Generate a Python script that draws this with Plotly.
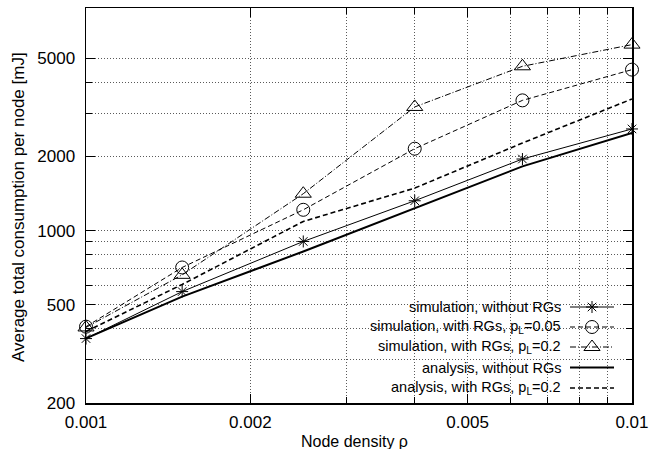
import plotly.graph_objects as go

# ---- data ----
density = [0.001, 0.0015, 0.0025, 0.004, 0.0063, 0.01]
sim_no_rg = [365, 566, 904, 1322, 1952, 2585]
sim_rg_005 = [408, 709, 1215, 2150, 3376, 4498]
sim_rg_02 = [405, 662, 1412, 3175, 4641, 5682]
ana_no_rg = [366, 540, 823, 1234, 1822, 2490]
ana_rg_02 = [390, 605, 1090, 1488, 2267, 3420]

x_major = [0.001, 0.002, 0.005, 0.01]
x_major_text = ["0.001", "0.002", "0.005", "0.01"]
x_minor = [0.003, 0.004, 0.006, 0.007, 0.008, 0.009]
y_major = [200, 500, 1000, 2000, 5000]
y_major_text = ["200", "500", "1000", "2000", "5000"]
y_minor = [300, 400, 600, 700, 800, 900, 3000, 4000]

x_title = "Node density ρ"
y_title = "Average total consumption per node [mJ]"
legend_labels = [
    "simulation, without RGs",
    "simulation, with RGs, p<sub>L</sub>=0.05",
    "simulation, with RGs, p<sub>L</sub>=0.2",
    "analysis, without RGs",
    "analysis, with RGs, p<sub>L</sub>=0.2",
]

FONT = "Liberation Sans, Arial, Helvetica, sans-serif"
GRID = "#5a5a5a"
GDASH = "1px,2px"

styles = [
    dict(line=dict(color="black", width=1, dash="solid"),
         marker=dict(symbol="asterisk-open", size=10, color="black", line=dict(color="black", width=1)),
         mode="lines+markers"),
    dict(line=dict(color="black", width=1, dash="5px,3px"),
         marker=dict(symbol="circle-open", size=13, color="black", line=dict(color="black", width=1)),
         mode="lines+markers"),
    dict(line=dict(color="black", width=1, dash="6px,2px,1px,2px"),
         marker=dict(symbol="triangle-up-open", size=14, color="black", line=dict(color="black", width=1)),
         mode="lines+markers"),
    dict(line=dict(color="black", width=2, dash="solid"), marker=None, mode="lines"),
    dict(line=dict(color="black", width=1.6, dash="5px,3px"), marker=None, mode="lines"),
]
series = [sim_no_rg, sim_rg_005, sim_rg_02, ana_no_rg, ana_rg_02]

fig = go.Figure()
for ys, st, name in zip(series, styles, legend_labels):
    kw = dict(x=density, y=ys, mode=st["mode"], line=st["line"], name=name,
              showlegend=False, cliponaxis=False)
    if st["marker"] is not None:
        kw["marker"] = st["marker"]
    fig.add_trace(go.Scatter(**kw))

# page body margin is removed by the post script, so the figure fills the window
FW, FH = 649, 449
# plot area in window pixels
L, R, T, B = 86, 632, 8, 403
W, H = R - L, B - T
def px(xp):
    return (xp - L) / W
def py(yp):
    return (B - yp) / H

row_y = [307, 327, 347, 367.5, 388]
shapes = [dict(type="rect", xref="paper", yref="paper", x0=px(337), x1=px(627),
               y0=py(290), y1=0.002, fillcolor="white", line=dict(width=0), layer="between")]
annotations = []
for i, (lab, st) in enumerate(zip(legend_labels, styles)):
    yy = py(row_y[i])
    annotations.append(dict(xref="paper", yref="paper", x=px(563), y=yy, text=lab,
                            showarrow=False, xanchor="right", yanchor="middle",
                            font=dict(family=FONT, size=14.5, color="black")))
    shapes.append(dict(type="line", xref="paper", yref="paper", x0=px(570), x1=px(614),
                       y0=yy, y1=yy, line=st["line"], layer="above"))
for i in range(3):
    fig.add_trace(go.Scatter(x=[px(592)], y=[py(row_y[i])], mode="markers",
                             marker=styles[i]["marker"], xaxis="x2", yaxis="y2",
                             showlegend=False, hoverinfo="skip", cliponaxis=False))

# axis titles as annotations for exact placement
annotations.append(dict(xref="paper", yref="paper", x=px(354), y=py(441), text=x_title,
                        showarrow=False, xanchor="center", yanchor="middle",
                        font=dict(family=FONT, size=16, color="black")))
annotations.append(dict(xref="paper", yref="paper", x=px(18), y=py(207), text=y_title,
                        showarrow=False, xanchor="center", yanchor="middle", textangle=-90,
                        font=dict(family=FONT, size=17, color="black")))

axis_common = dict(
    ticks="inside", ticklen=9, tickwidth=1, tickcolor="black",
    showline=True, linecolor="black", linewidth=1.5, mirror="allticks",
    showgrid=True, gridcolor=GRID, gridwidth=1, griddash=GDASH,
    zeroline=False, automargin=False,
    tickfont=dict(family=FONT, size=17, color="black"),
)

fig.update_layout(
    width=FW, height=FH,
    margin=dict(l=L, r=FW - R, t=T, b=FH - B),
    paper_bgcolor="white", plot_bgcolor="white",
    font=dict(family=FONT, color="black"),
    hovermode=False,
    xaxis=dict(type="log", range=[-3.00001, -1.99999], tickvals=x_major, ticktext=x_major_text,
               ticklabelstandoff=3,
               minor=dict(tickvals=x_minor, ticks="inside", ticklen=6, tickcolor="black",
                          showgrid=True, gridcolor=GRID, griddash=GDASH, gridwidth=1),
               **axis_common),
    yaxis=dict(type="log", range=[2.30103, 3.903], tickvals=y_major, ticktext=y_major_text,
               ticklabelstandoff=6,
               minor=dict(tickvals=y_minor, ticks="inside", ticklen=6, tickcolor="black",
                          showgrid=True, gridcolor=GRID, griddash=GDASH, gridwidth=1),
               **axis_common),
    xaxis2=dict(overlaying="x", range=[0, 1], visible=False, fixedrange=True),
    yaxis2=dict(overlaying="y", range=[0, 1], visible=False, fixedrange=True),
    shapes=shapes,
    annotations=annotations,
)

fig.write_html("out.html",
               config={"displayModeBar": False, "staticPlot": True},
               post_script="document.body.style.margin='0px';"
                           "document.documentElement.style.overflow='hidden';")
